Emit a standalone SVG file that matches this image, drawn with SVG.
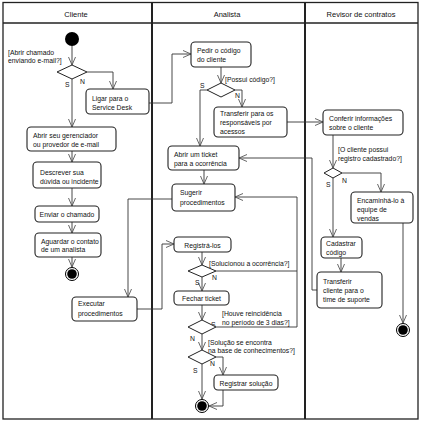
<svg xmlns="http://www.w3.org/2000/svg" width="431" height="424" viewBox="0 0 431 424">
<style>
text{font-family:"Liberation Sans",Arial,sans-serif;font-size:6.8px;fill:#111}
.h{font-size:7.5px;text-anchor:middle}
.box{fill:#fff;stroke:#222;stroke-width:1.1}
.dia{fill:#fff;stroke:#222;stroke-width:1}
.c{fill:none;stroke:#333;stroke-width:0.9}
.lane{fill:none;stroke:#222;stroke-width:1.3}
</style>
<defs>
<marker id="a" viewBox="0 0 8 8" refX="8" refY="4" markerWidth="8" markerHeight="8" markerUnits="userSpaceOnUse" orient="auto">
<path d="M0,0.5 L8,4 L0,7.5" fill="none" stroke="#555" stroke-width="0.9"/>
</marker>
</defs>
<rect width="431" height="424" fill="#fff"/>
<g id="lanes">
<rect class="lane" x="3" y="2.5" width="415" height="416.5"/>
<line class="lane" x1="3" y1="23" x2="418" y2="23"/>
<line x1="152" y1="2.5" x2="152" y2="419" stroke="#222" stroke-width="2"/>
<line x1="305" y1="2.5" x2="305" y2="419" stroke="#222" stroke-width="2"/>
<text class="h" x="76" y="17">Cliente</text>
<text class="h" x="227" y="17">Analista</text>
<text class="h" x="361" y="17">Revisor de contratos</text>
</g>
<g id="connectors">
<path class="c" d="M72,46 V65" marker-end="url(#a)"/>
<path class="c" d="M87,72 H113 V89" marker-end="url(#a)"/>
<path class="c" d="M72,79 V127" marker-end="url(#a)"/>
<path class="c" d="M72,151 V162" marker-end="url(#a)"/>
<path class="c" d="M72,188 V206" marker-end="url(#a)"/>
<path class="c" d="M72,222 V233" marker-end="url(#a)"/>
<path class="c" d="M72,257 V267" marker-end="url(#a)"/>
<path class="c" d="M149,103 H172 V54 H191" marker-end="url(#a)"/>
<path class="c" d="M221,67 V83" marker-end="url(#a)"/>
<path class="c" d="M235,90 H242 V107" marker-end="url(#a)"/>
<path class="c" d="M207,90 H200 V146" marker-end="url(#a)"/>
<path class="c" d="M287,122 H323" marker-end="url(#a)"/>
<path class="c" d="M204,170 V184" marker-end="url(#a)"/>
<path class="c" d="M172,199 H128 V297" marker-end="url(#a)"/>
<path class="c" d="M137,309 H162 V244 H174" marker-end="url(#a)"/>
<path class="c" d="M202,252 V265" marker-end="url(#a)"/>
<path class="c" d="M216,271 H297"/>
<path class="c" d="M202,277 V291" marker-end="url(#a)"/>
<path class="c" d="M202,305 V320" marker-end="url(#a)"/>
<path class="c" d="M216,327 H297 V197 H235" marker-end="url(#a)"/>
<path class="c" d="M202,334 V350" marker-end="url(#a)"/>
<path class="c" d="M216,357 H223 V375" marker-end="url(#a)"/>
<path class="c" d="M202,364 V399" marker-end="url(#a)"/>
<path class="c" d="M223,390 V406 H209" marker-end="url(#a)"/>
<path class="c" d="M333,135 V168" marker-end="url(#a)"/>
<path class="c" d="M342,173 H381 V192" marker-end="url(#a)"/>
<path class="c" d="M333,178 V237" marker-end="url(#a)"/>
<path class="c" d="M403,223 V323" marker-end="url(#a)"/>
<path class="c" d="M341,258 V272" marker-end="url(#a)"/>
<path class="c" d="M317,290 H312 V158 H239" marker-end="url(#a)"/>
</g>
<g id="guards">
<text x="8" y="55">[Abrir chamado</text>
<text x="8" y="63">enviando e-mail?]</text>
<text x="65" y="87">S</text>
<text x="80" y="84">N</text>
<text x="225" y="82">[Possui código?]</text>
<text x="200" y="88">S</text>
<text x="235" y="98">N</text>
<text x="209" y="266">[Solucionou a ocorrência?]</text>
<text x="212" y="280">N</text>
<text x="195" y="285">S</text>
<text x="222" y="316">[Houve reincidência</text>
<text x="222" y="325">no período de 3 dias?]</text>
<text x="211" y="327">S</text>
<text x="190" y="341">N</text>
<text x="208" y="345">[Solução se encontra</text>
<text x="208" y="353">na base de conhecimentos?]</text>
<text x="210" y="366">N</text>
<text x="193" y="373">S</text>
<text x="338" y="152">[O cliente possui</text>
<text x="338" y="161">registro cadastrado?]</text>
<text x="326" y="187">S</text>
<text x="342" y="183">N</text>
</g>
<g id="start"><circle cx="72" cy="39" r="7" fill="#000"/></g>
<g id="d1"><path class="dia" d="M57,72 L72,65 L87,72 L72,79 Z"/></g>
<g id="ligar"><rect class="box" x="86" y="89" width="63" height="25" rx="4"/><text x="92" y="101">Ligar para o</text><text x="92" y="110">Service Desk</text></g>
<g id="abrirseu"><rect class="box" x="27" y="127" width="89" height="24" rx="4"/><text x="33" y="138">Abrir seu gerenciador</text><text x="33" y="147">ou provedor de e-mail</text></g>
<g id="descrever"><rect class="box" x="33" y="162" width="68" height="26" rx="4"/><text x="40" y="175">Descrever sua</text><text x="40" y="184">dúvida ou incidente</text></g>
<g id="enviar"><rect class="box" x="35" y="206" width="64" height="16" rx="4"/><text x="67" y="217" text-anchor="middle">Enviar o chamado</text></g>
<g id="aguardar"><rect class="box" x="35" y="233" width="66" height="24" rx="4"/><text x="41" y="244">Aguardar o contato</text><text x="41" y="252">de um analista</text></g>
<g id="end1"><circle cx="72" cy="274" r="6.5" fill="#fff" stroke="#000" stroke-width="1"/><circle cx="72" cy="274" r="4.8" fill="#000"/></g>
<g id="executar"><rect class="box" x="72" y="297" width="65" height="24" rx="4"/><text x="78" y="306">Executar</text><text x="78" y="316">procedimentos</text></g>
<g id="pedir"><rect class="box" x="191" y="42" width="60" height="25" rx="4"/><text x="197" y="53">Pedir o código</text><text x="197" y="62">do cliente</text></g>
<g id="d2"><path class="dia" d="M207,90 L221,83 L235,90 L221,97 Z"/></g>
<g id="transferir"><rect class="box" x="214" y="107" width="73" height="30" rx="4"/><text x="220" y="116">Transferir para os</text><text x="220" y="125">responsáveis por</text><text x="220" y="134">acessos</text></g>
<g id="ticket"><rect class="box" x="168" y="146" width="71" height="24" rx="4"/><text x="174" y="157">Abrir um ticket</text><text x="174" y="166">para a ocorrência</text></g>
<g id="sugerir"><rect class="box" x="172" y="184" width="63" height="27" rx="4"/><text x="180" y="195">Sugerir</text><text x="180" y="205">procedimentos</text></g>
<g id="registra"><rect class="box" x="174" y="237" width="57" height="15" rx="4"/><text x="202.5" y="247.5" text-anchor="middle">Registrá-los</text></g>
<g id="d3"><path class="dia" d="M188,271 L202,265 L216,271 L202,277 Z"/></g>
<g id="fechar"><rect class="box" x="174" y="291" width="55" height="14" rx="4"/><text x="201.5" y="300.5" text-anchor="middle">Fechar ticket</text></g>
<g id="d4"><path class="dia" d="M188,327 L202,320 L216,327 L202,334 Z"/></g>
<g id="d5"><path class="dia" d="M188,357 L202,350 L216,357 L202,364 Z"/></g>
<g id="registrar"><rect class="box" x="214" y="375" width="64" height="15" rx="4"/><text x="246" y="385.5" text-anchor="middle">Registrar solução</text></g>
<g id="end2"><circle cx="202" cy="406" r="6.5" fill="#fff" stroke="#000" stroke-width="1"/><circle cx="202" cy="406" r="4.8" fill="#000"/></g>
<g id="conferir"><rect class="box" x="323" y="110" width="80" height="25" rx="4"/><text x="329" y="121">Conferir informações</text><text x="329" y="130">sobre o cliente</text></g>
<g id="d6"><path class="dia" d="M324,173 L333,168 L342,173 L333,178 Z"/></g>
<g id="encaminha"><rect class="box" x="351" y="192" width="62" height="31" rx="4"/><text x="357" y="203">Encaminhá-lo à</text><text x="357" y="212">equipe de</text><text x="357" y="221">vendas</text></g>
<g id="cadastrar"><rect class="box" x="321" y="237" width="41" height="21" rx="4"/><text x="326" y="246">Cadastrar</text><text x="326" y="255">código</text></g>
<g id="transfcli"><rect class="box" x="317" y="272" width="65" height="36" rx="4"/><text x="323" y="284">Transferir</text><text x="323" y="293">cliente para o</text><text x="323" y="302">time de suporte</text></g>
<g id="end3"><circle cx="403" cy="330" r="6.5" fill="#fff" stroke="#000" stroke-width="1"/><circle cx="403" cy="330" r="4.8" fill="#000"/></g>
</svg>
